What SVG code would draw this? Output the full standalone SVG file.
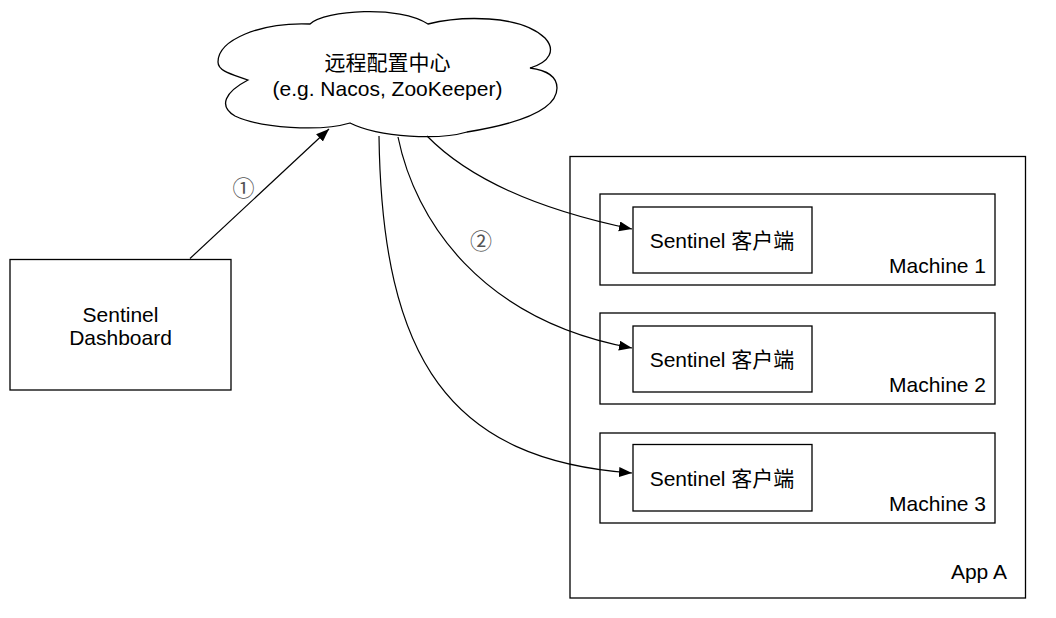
<svg xmlns="http://www.w3.org/2000/svg" width="1056" height="618" viewBox="0 0 1056 618">
<style>
.box{fill:#fff;stroke:#000;stroke-width:1.3}
.t{font-family:"Liberation Sans","Noto Sans CJK SC",Arial,sans-serif;font-size:21px;fill:#000}
.num{font-family:"Noto Sans CJK SC","DejaVu Sans",sans-serif;font-size:22px;fill:#555;text-anchor:middle}
.c{text-anchor:middle}
.e{text-anchor:end}
.line{fill:none;stroke:#000;stroke-width:1.2}
</style>
<defs>
<marker id="arr" markerUnits="userSpaceOnUse" markerWidth="15" markerHeight="12" refX="13" refY="5" orient="auto" viewBox="0 0 15 12">
<path d="M0,0 L13,5 L0,10 Z" fill="#000"/>
</marker>
</defs>
<rect width="1056" height="618" fill="#fff"/>
<g id="app-a">
<rect class="box" x="570" y="156.5" width="455.5" height="441.5"/>
<text class="t e" x="1007" y="579">App A</text>
</g>
<g id="machine-1">
<rect class="box" x="600" y="194" width="395" height="91"/>
<text class="t e" x="986" y="273">Machine 1</text>
</g>
<g id="client-1">
<rect class="box" x="633" y="207" width="179" height="66"/>
<text class="t c" x="722" y="248">Sentinel 客户端</text>
</g>
<g id="machine-2">
<rect class="box" x="600" y="313" width="395" height="91"/>
<text class="t e" x="986" y="392">Machine 2</text>
</g>
<g id="client-2">
<rect class="box" x="633" y="326" width="179" height="66"/>
<text class="t c" x="722" y="367">Sentinel 客户端</text>
</g>
<g id="machine-3">
<rect class="box" x="600" y="433" width="395" height="90"/>
<text class="t e" x="986" y="511">Machine 3</text>
</g>
<g id="client-3">
<rect class="box" x="633" y="444.5" width="179" height="66.5"/>
<text class="t c" x="722" y="485.5">Sentinel 客户端</text>
</g>
<g id="dashboard">
<rect class="box" x="10" y="259.5" width="221" height="130.5"/>
<text class="t c" x="120.5" y="321.5">Sentinel</text>
<text class="t c" x="120.5" y="345">Dashboard</text>
</g>
<g id="config-center">
<path class="box" d="M310,24 C325,10 400,5 428,24 C460,16 520,14 545,38 C556,50 550,62 530,68 C545,70 557,76 557,88 C557,112 510,125 467,132 C440,140 380,138 350,123 C320,132 260,128 235,116 C218,106 225,92 248,80 C235,75 218,72 218,62 C218,40 260,22 310,24 Z"/>
<text class="t c" x="387.5" y="70">远程配置中心</text>
<text class="t c" x="387.5" y="96">(e.g. Nacos, ZooKeeper)</text>
</g>
<g id="connectors">
<path class="line" d="M190,258.5 L329,129" marker-end="url(#arr)"/>
<path class="line" d="M427,136 C470,180 540,210 632,229" marker-end="url(#arr)"/>
<path class="line" d="M398,137 C415,220 480,320 632,348" marker-end="url(#arr)"/>
<path class="line" d="M379,136 C382,360 450,460 632,473" marker-end="url(#arr)"/>
<text class="num" x="243.5" y="196">①</text>
<text class="num" x="481" y="249">②</text>
</g>
</svg>
